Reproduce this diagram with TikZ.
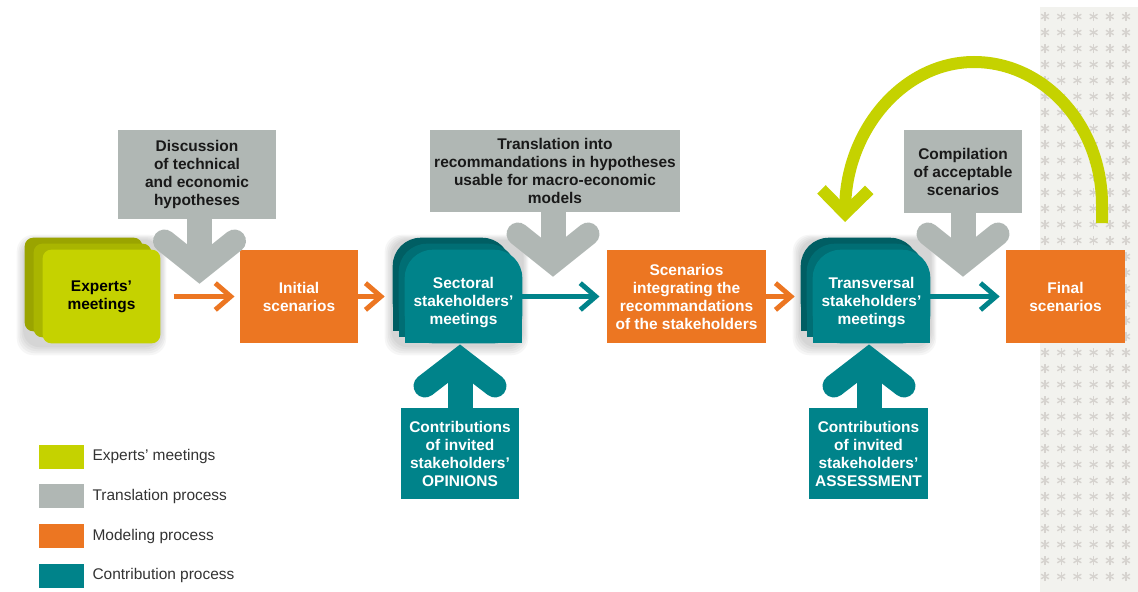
\documentclass[tikz,border=0pt]{standalone}
\usepackage{fontspec}
\setmainfont{Liberation Sans}
\usetikzlibrary{arrows.meta, positioning, backgrounds}
\definecolor{exlime}{HTML}{C5D200}
\definecolor{trgray}{HTML}{B0B7B4}
\definecolor{moorange}{HTML}{EC7622}
\definecolor{coteal}{HTML}{00838A}
\definecolor{starbg}{HTML}{F2F2EE}
\definecolor{stargray}{HTML}{D6D3CF}
\definecolor{legtxt}{HTML}{333333}

% one card of a stack, shifted by (#2,#3) from the front node #1
\newcommand{\cardlayer}[4]{%
  \fill[#4, rounded corners=6pt] ([shift={(#2,#3)}]#1.south west) rectangle ([shift={(#2,#3)}]#1.north east);}
% same, with a round top and a flat bottom
\newcommand{\domelayer}[4]{%
  \fill[#4, rounded corners=20pt] ([shift={(#2,#3)}]#1.south west) rectangle ([shift={(#2,#3)}]#1.north east);
  \fill[#4] ([shift={(#2,#3)}]#1.south west) rectangle ([shift={(#2,#3)}]#1.east);}
% soft shadow under a stack
\newcommand{\stackshadow}[3]{%
  \foreach \g in {1,...,5}
    \fill[black, opacity=0.035, rounded corners=12pt]
      ([shift={({#2-1.6*\g},{#3-1.2*\g+3})}]#1.north west)
      rectangle ([shift={({1.2*\g},{2*\g+2})}]#1.south east);}
% pushes the text of a dome down a little
\newcommand{\domestrut}{\rule{0pt}{17pt}}

\begin{document}
\begin{tikzpicture}[
  x=0.025cm, y=-0.025cm,
  box/.style={rectangle, inner sep=2pt, align=center,
    font=\fontsize{11}{12.8}\selectfont\bfseries},
  transl/.style={box, fill=trgray, text=black!90},
  model/.style={box, fill=moorange, text=white, minimum height=2.325cm},
  meeting/.style={box, minimum width=2.925cm, minimum height=2.325cm},
  contrib/.style={box, fill=coteal, text=white, minimum width=2.95cm, minimum height=2.275cm},
  flow/.style={line width=3.5pt, -{Straight Barb[length=11pt,width=19pt,line width=3.5pt]}},
  hint/.style={line width=0.625cm},
  hinthead/.style={line width=0.575cm, line cap=round, line join=miter},
  swatch/.style={rectangle, minimum width=1.125cm, minimum height=0.6cm, inner sep=0},
  legtext/.style={font=\fontsize{11}{13}\selectfont, text=legtxt, inner sep=0}
]
\useasboundingbox (0,0) rectangle (1138,592);

% translation boxes
\node[transl, minimum width=3.95cm, minimum height=2.225cm] (discussion) at (197,174.5)
  {Discussion\\of technical\\and economic\\hypotheses};
\node[transl, minimum width=6.25cm, minimum height=2.05cm] (translation) at (555,171)
  {Translation into\\recommandations in hypotheses\\usable for macro-economic\\models};
\node[transl, minimum width=2.95cm, minimum height=2.075cm] (compilation) at (963,171.5)
  {Compilation\\of acceptable\\scenarios};

% main chain
\node[meeting, text=black] (experts) at (101.5,296.5) {Experts’\\meetings};
\node[model, minimum width=2.95cm] (initial) at (299,296.5) {Initial\\scenarios};
\node[meeting, text=white] (sectoral) at (463.5,296.5) {\domestrut Sectoral\\stakeholders’\\meetings};
\node[model, minimum width=3.975cm] (integrating) at (686.5,296.5)
  {Scenarios\\integrating the\\recommandations\\of the stakeholders};
\node[meeting, text=white] (transversal) at (871.5,296.5) {\domestrut Transversal\\stakeholders’\\meetings};
\node[model, minimum width=2.975cm] (final) at (1065.5,296.5) {Final\\scenarios};

% contributions
\node[contrib] (opinions) at (460,453.5) {Contributions\\of invited\\stakeholders’\\OPINIONS};
\node[contrib] (assessment) at (868.5,453.5) {Contributions\\of invited\\stakeholders’\\ASSESSMENT};

\begin{pgfonlayer}{background}
  % starred strip on the right
  \fill[starbg] (1040,7) rectangle (1138,592);
  \foreach \i in {0,...,5}
    \foreach \j in {0,...,35}
      \foreach \a in {90,30,150}
        \draw[stargray, line width=1pt] ({1045+16.2*\i},{16.5+16*\j}) ++(\a:4.5) -- ++(\a+180:9);
  % stacks
  \stackshadow{experts}{-18}{-12}
  \cardlayer{experts}{-18}{-12}{exlime!78!black}
  \cardlayer{experts}{-9}{-6}{exlime!86!black}
  \cardlayer{experts}{0}{0}{exlime}
  \stackshadow{sectoral}{-12}{-12}
  \domelayer{sectoral}{-12}{-12}{coteal!72!black}
  \domelayer{sectoral}{-6}{-6}{coteal!84!black}
  \domelayer{sectoral}{0}{0}{coteal}
  \stackshadow{transversal}{-12}{-12}
  \domelayer{transversal}{-12}{-12}{coteal!72!black}
  \domelayer{transversal}{-6}{-6}{coteal!84!black}
  \domelayer{transversal}{0}{0}{coteal}
\end{pgfonlayer}

% flow arrows
\draw[flow, moorange, shorten <=0.33cm, shorten >=0.13cm] (experts) -- (initial);
\draw[flow, moorange, shorten >=0.5cm] (initial) -- (sectoral);
\draw[flow, coteal, shorten >=0.18cm] (sectoral) -- (integrating);
\draw[flow, moorange, shorten >=0.45cm] (integrating) -- (transversal);
\draw[flow, coteal, shorten >=0.15cm] (transversal) -- (final);

% big chevrons from the translation boxes
\coordinate (gv1) at (199.5,269);
\coordinate (gv2) at (553,262);
\coordinate (gv3) at (963,262);
\foreach \b/\v in {discussion/gv1, translation/gv2, compilation/gv3} {
  \draw[trgray, hint] (\v |- \b.south) -- (\v);
  \draw[trgray, hinthead] ([shift={(-35,-28)}]\v) -- (\v) -- ([shift={(35,-28)}]\v);
}

% big chevrons from the contributions
\coordinate (cv1) at (460,359);
\coordinate (cv2) at (869,359);
\foreach \b/\v in {opinions/cv1, assessment/cv2} {
  \draw[coteal, hint] (\v |- \b.north) -- (\v);
  \draw[coteal, hinthead] ([shift={(-35,27)}]\v) -- (\v) -- ([shift={(35,27)}]\v);
}

% loop back from the final scenarios
\coordinate (loopfrom) at (1102,223);
\coordinate (loopto) at (845,222);
\draw[exlime, line width=0.3cm, -{Straight Barb[length=17pt,width=34pt,line width=8.5pt]}]
  (loopfrom) -- (1102,205) .. controls (1102,126) and (1044.7,62) .. (974,62)
  .. controls (903.3,62) and (846,130) .. (loopto);

% legend
\node[swatch, fill=exlime] (legexperts) at (61.5,456.5) {};
\node[swatch, fill=trgray, below=0.38cm of legexperts] (legtransl) {};
\node[swatch, fill=moorange, below=0.38cm of legtransl] (legmodel) {};
\node[swatch, fill=coteal, below=0.38cm of legmodel] (legcontrib) {};
\node[legtext, right=0.2cm of legexperts] (legexpertstext) {Experts’ meetings};
\node[legtext, right=0.2cm of legtransl] (legtransltext) {Translation process};
\node[legtext, right=0.2cm of legmodel] (legmodeltext) {Modeling process};
\node[legtext, right=0.2cm of legcontrib] (legcontribtext) {Contribution process};
\end{tikzpicture}
\end{document}
